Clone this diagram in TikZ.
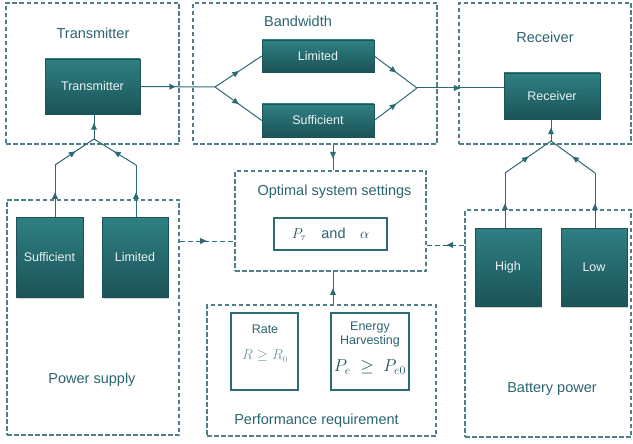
\documentclass[tikz,border=0pt]{standalone}
\usepackage{fontspec}
\setmainfont{Liberation Sans}
\usetikzlibrary{arrows.meta,decorations.markings,shadows}
\definecolor{tealA}{HTML}{2F8083}
\definecolor{tealB}{HTML}{1B5357}
\definecolor{dashc}{HTML}{4E7F8B}
\definecolor{linec}{HTML}{2C6A74}
\definecolor{titlec}{HTML}{2A6470}
\definecolor{lightc}{HTML}{6E9AA5}
\tikzset{
  grp/.style={draw=dashc, line width=1.4pt, dash pattern=on 4.5pt off 2.5pt, rectangle, inner sep=0pt},
  dnode/.style={rectangle, top color=tealA, bottom color=tealB, draw=tealB, line width=0.4pt,
    text=white!90!tealA, font=\fontsize{12.5}{15}\selectfont, inner sep=0pt,
    drop shadow={opacity=0.35, shadow xshift=1pt, shadow yshift=-1.5pt}},
  ttl/.style={text=titlec, font=\fontsize{14.5}{17}\selectfont, inner sep=0pt},
  ibox/.style={rectangle, draw=linec, line width=1.1pt, fill=white, inner sep=0pt},
  conn/.style={color=linec, line width=1pt},
  dashes/.style={dash pattern=on 5pt off 3pt},
  arr/.style={postaction={decorate}, decoration={markings, mark=at position #1 with {\fill[linec, solid] (3.5pt,0pt) -- (-3pt,3pt) -- (-3pt,-3pt) -- cycle;}}}
}
\begin{document}
\begin{tikzpicture}[x=1pt,y=-1pt]
\useasboundingbox (0,0) rectangle (633,444);
% groups
\node[grp, minimum width=173pt, minimum height=141pt] (gTx) at (92.5,73.5) {};
\node[grp, minimum width=244pt, minimum height=141pt] (gBW) at (315,73.5) {};
\node[grp, minimum width=172pt, minimum height=141pt] (gRx) at (545,73.5) {};
\node[grp, minimum width=172pt, minimum height=235pt] (gPS) at (93,317.5) {};
\node[grp, minimum width=191pt, minimum height=100pt] (gOpt) at (330.5,221) {};
\node[grp, minimum width=229pt, minimum height=131pt] (gPerf) at (321.5,370.5) {};
\node[grp, minimum width=166pt, minimum height=227pt] (gBat) at (548,323.5) {};
% titles
\node[ttl] (tTx) at (93,33) {Transmitter};
\node[ttl] (tBW) at (298,21) {Bandwidth};
\node[ttl] (tRx) at (545,37) {Receiver};
\node[ttl] (tOpt) at (334.5,192) {Optimal system settings};
\node[ttl] (tPS) at (92,380) {Power supply};
\node[ttl] (tBat) at (552,389) {Battery power};
\node[ttl] (tPerf) at (316.5,421) {Performance requirement};
% dark nodes
\node[dnode, minimum width=95pt, minimum height=55pt] (tx) at (92.5,86.5) {Transmitter};
\node[dnode, minimum width=112pt, minimum height=32pt] (lim) at (318,56) {Limited};
\node[dnode, minimum width=112pt, minimum height=33pt] (suf) at (318,120.5) {Sufficient};
\node[dnode, minimum width=96pt, minimum height=46pt] (rx) at (552,96) {Receiver};
\node[dnode, minimum width=67pt, minimum height=80pt] (psS) at (49.5,257.5) {Sufficient};
\node[dnode, minimum width=66pt, minimum height=80pt] (psL) at (135,257.5) {Limited};
\node[dnode, minimum width=66pt, minimum height=78pt] (hi) at (508,267) {High};
\node[dnode, minimum width=66pt, minimum height=78pt] (lo) at (594,267) {Low};
% inner boxes
\node[ibox, minimum width=113pt, minimum height=32pt, text=titlec, font=\fontsize{14.5}{16}\selectfont] (pta) at (330.5,234) {\textcolor{tealB}{$P_\tau$}\quad and\quad \textcolor{tealB}{$\alpha$}};
\node[ibox, minimum width=67pt, minimum height=77pt] (rate) at (264.5,351.5) {};
\node[ibox, minimum width=78pt, minimum height=77pt] (eh) at (370,351.5) {};
\node[text=titlec, font=\fontsize{12.5}{15}\selectfont] (rateT) at (265,329) {Rate};
\node[text=lightc, font=\fontsize{13.5}{15}\selectfont] (rateM) at (265,356) {$R\geq R_0$};
\node[text=titlec, font=\fontsize{12.5}{15}\selectfont, align=center] (ehT) at (370,334.5) {Energy\\[-1.5pt]Harvesting};
\node[text=tealB, font=\fontsize{17}{19}\selectfont] (ehM) at (370,367) {$P_e\ \geq\ P_{e0}$};
% junctions
\coordinate (txsplit) at (215,87);
\coordinate (bwmerge) at (417,88);
\coordinate (txm) at (94,139);
\coordinate (txl) at (55,165);
\coordinate (txr) at (136,165);
\coordinate (rxm) at (551,141);
\coordinate (rxl) at (505,173);
\coordinate (rxr) at (595,173);
% connectors
\draw[conn, arr=0.43] (tx.east) -- (txsplit);
\draw[conn, arr=0.45] (txsplit) -- (lim.west);
\draw[conn, arr=0.45] (txsplit) -- (suf.west);
\draw[conn, arr=0.45] (lim.east) -- (bwmerge);
\draw[conn, arr=0.45] (suf.east) -- (bwmerge);
\draw[conn, arr=0.46] (bwmerge) -- (rx.west |- bwmerge);
\draw[conn, arr=0.5] (txm) -- (tx.south -| txm);
\draw[conn, arr=0.45] (txl) -- (txm);
\draw[conn, arr=0.45] (txr) -- (txm);
\draw[conn, arr=0.41] (psS.north -| txl) -- (txl);
\draw[conn, arr=0.41] (psL.north -| txr) -- (txr);
\draw[conn, arr=0.45] (rxm) -- (rx.south -| rxm);
\draw[conn, arr=0.45] (rxl) -- (rxm);
\draw[conn, arr=0.45] (rxr) -- (rxm);
\draw[conn, arr=0.38] (hi.north -| rxl) -- (rxl);
\draw[conn, arr=0.38] (lo.north -| rxr) -- (rxr);
\draw[conn, arr=0.4] (gBW.south -| 333,0) -- (gOpt.north -| 333,0);
\draw[conn, arr=0.38] (gPerf.north -| 333,0) -- (gOpt.south -| 333,0);
\draw[conn, dashes, arr=0.43] (gPS.east |- 0,241) -- (gOpt.west |- 0,241);
\draw[conn, dashes, arr=0.38] (gBat.west |- 0,245) -- (gOpt.east |- 0,245);
\end{tikzpicture}
\end{document}
